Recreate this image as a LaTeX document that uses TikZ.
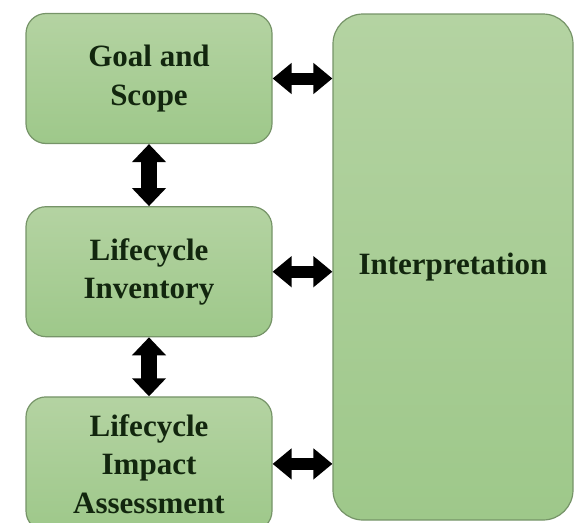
\documentclass[tikz,border=0pt]{standalone}
\usepackage{fontspec}
\setmainfont{Liberation Serif}
\usetikzlibrary{positioning,arrows.meta}
\definecolor{boxtop}{RGB}{180,211,162}
\definecolor{boxbot}{RGB}{158,200,138}
\definecolor{boxline}{RGB}{118,148,104}
\definecolor{boxtext}{RGB}{18,38,14}
\tikzset{
    block/.style = {draw=boxline, line width=1.2pt, rounded corners=20pt,
        top color=boxtop, bottom color=boxbot,
        minimum width=246pt, minimum height=130pt, align=center,
        text=boxtext, font=\fontsize{31}{38.5}\selectfont\bfseries},
    bigblock/.style = {block, rounded corners=30pt,
        minimum width=240pt, minimum height=506pt},
    harrow/.style = {draw, line width=12pt,
        {Triangle[width=30pt,length=19pt]}-{Triangle[width=30pt,length=19pt]}},
    varrow/.style = {draw, line width=16pt,
        {Triangle[width=33pt,length=18pt]}-{Triangle[width=33pt,length=18pt]}}
}

\begin{document}
\begin{tikzpicture}
    \useasboundingbox (0,0) rectangle (575pt,-522pt);
    \clip (0,0) rectangle (575pt,-522pt);
    % left column
    \node [block] (goal) at (149pt,-78.5pt) {Goal and\\Scope};
    \node [block, below=62pt of goal] (lci) {Lifecycle\\Inventory};
    \node [block, below=59pt of lci, minimum height=134pt] (lcia) {Lifecycle\\Impact\\Assessment};
    % right column
    \node [bigblock] (interp) at (453pt,-267pt) {Interpretation};
    \draw [varrow] (goal) -- (lci);
    \draw [varrow] (lci) -- (lcia);
    \draw [harrow] (goal.east) -- (goal.east -| interp.west);
    \draw [harrow] (lci.east) -- (lci.east -| interp.west);
    \draw [harrow] (lcia.east) -- (lcia.east -| interp.west);
\end{tikzpicture}
\end{document}
